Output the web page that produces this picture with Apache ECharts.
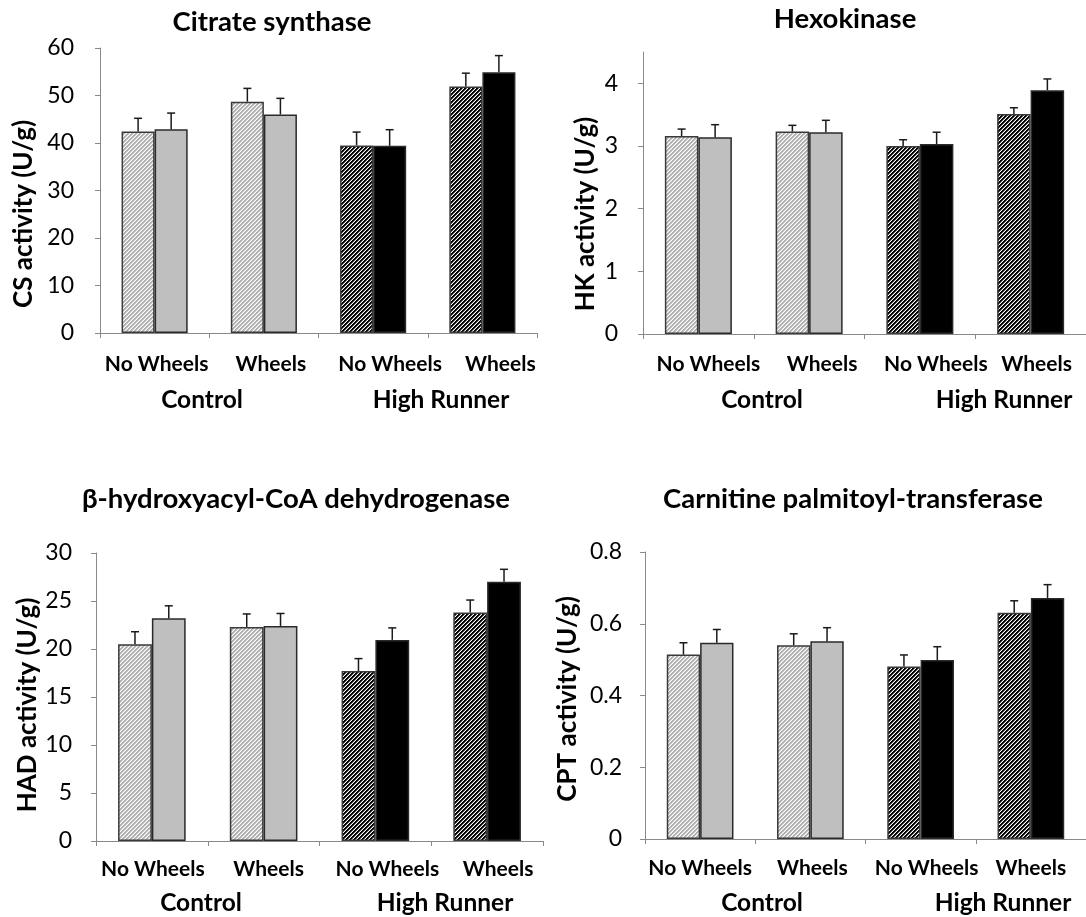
<!DOCTYPE html>
<html><head><meta charset="utf-8">
<script src="https://cdn.jsdelivr.net/npm/echarts@6/dist/echarts.min.js"></script>
<style>html,body{margin:0;padding:0;background:#fff}#c{width:1086px;height:917px}</style>
</head><body><div id="c"></div>
<script>
// ---- data ----
const categories = ['No Wheels', 'Wheels', 'No Wheels', 'Wheels'];
const groupLabels = ['Control', 'High Runner'];
const panelTitles = ['Citrate synthase', 'Hexokinase', 'β-hydroxyacyl-CoA dehydrogenase', 'Carnitine palmitoyl-transferase'];
const yNames = ['CS activity (U/g)', 'HK activity (U/g)', 'HAD activity (U/g)', 'CPT activity (U/g)'];

const csHatched = [42.4, 48.7, 39.5, 51.9];
const csHatchedErr = [2.8, 2.8, 2.8, 2.8];
const csSolid = [42.9, 46.0, 39.4, 54.9];
const csSolidErr = [3.4, 3.4, 3.4, 3.5];

const hkHatched = [3.16, 3.23, 3.00, 3.51];
const hkHatchedErr = [0.11, 0.10, 0.10, 0.10];
const hkSolid = [3.14, 3.22, 3.03, 3.89];
const hkSolidErr = [0.20, 0.19, 0.19, 0.18];

const hadHatched = [20.5, 22.3, 17.7, 23.8];
const hadHatchedErr = [1.3, 1.35, 1.3, 1.3];
const hadSolid = [23.2, 22.4, 20.95, 27.0];
const hadSolidErr = [1.3, 1.3, 1.25, 1.3];

const cptHatched = [0.514, 0.540, 0.481, 0.631];
const cptHatchedErr = [0.033, 0.032, 0.032, 0.033];
const cptSolid = [0.547, 0.551, 0.499, 0.672];
const cptSolidErr = [0.037, 0.038, 0.037, 0.037];

const csTicks = [0, 10, 20, 30, 40, 50, 60];
const hkTicks = [0, 1, 2, 3, 4];
const hadTicks = [0, 5, 10, 15, 20, 25, 30];
const cptTicks = [0, 0.2, 0.4, 0.6, 0.8];

// ---- styles / layout ----
const FONT = 'Lato';
const CAT_GAP = 0.395;
function hatch(fg, mid) {
  const c = document.createElement('canvas');
  c.width = 4; c.height = 4;
  const ctx = c.getContext('2d');
  ctx.fillStyle = '#fff'; ctx.fillRect(0, 0, 4, 4);
  for (let y = 0; y < 4; y++) for (let x = 0; x < 4; x++) {
    const r = (x + y) % 4;
    if (r < 2) { ctx.fillStyle = fg; ctx.fillRect(x, y, 1, 1); }
    else if (r === 2) { ctx.fillStyle = mid; ctx.fillRect(x, y, 1, 1); }
  }
  return c;
}
const lightHatch = { image: hatch('#b0b0b0', '#d6d6d6'), repeat: 'repeat' };
const darkHatch = { image: hatch('#000000', '#6a6a6a'), repeat: 'repeat' };
const hatchColors = [lightHatch, lightHatch, darkHatch, darkHatch];
const solidColors = ['#bfbfbf', '#bfbfbf', '#000000', '#000000'];

const panels = [
  { grid: { left: 100, top: 48, width: 437, height: 285 }, max: 60, interval: 10, ticks: csTicks,
    h: csHatched, he: csHatchedErr, s: csSolid, se: csSolidErr,
    title: [272, 22], yname: [24, 214], ymargin: 26, xmargin: 21, shift: [2, 7, 17, 18], groupX: [202, 441], groupY: 400 },
  { grid: { left: 643, top: 52, width: 448, height: 282 }, max: 4.5, interval: 1, ticks: hkTicks,
    h: hkHatched, he: hkHatchedErr, s: hkSolid, se: hkSolidErr,
    title: [845, 19], yname: [586, 214], ymargin: 25, xmargin: 20, shift: [10, 13, 16, 6], groupX: [762, 1004], groupY: 400 },
  { grid: { left: 96, top: 553, width: 447, height: 288 }, max: 30, interval: 5, ticks: hadTicks,
    h: hadHatched, he: hadHatchedErr, s: hadSolid, se: hadSolidErr,
    title: [296, 499], yname: [28, 705], ymargin: 24, xmargin: 18, shift: [1, 5, 12, 11], groupX: [201, 445], groupY: 903 },
  { grid: { left: 645, top: 552, width: 446, height: 287 }, max: 0.8, interval: 0.2, ticks: cptTicks,
    h: cptHatched, he: cptHatchedErr, s: cptSolid, se: cptSolidErr,
    title: [853, 499], yname: [568, 699], ymargin: 23, xmargin: 19, shift: [0, 2, 6, 0], groupX: [762, 1003], groupY: 903 }
];

const axisGray = '#898989';
const grids = [], xAxes = [], yAxes = [], series = [], graphics = [];

function errRender(side) {
  return function (params, api) {
    const x = api.value(0), v = api.value(1), e = api.value(2);
    const base = api.coord([x, v]);
    const top = api.coord([x, v + e]);
    const band = api.size([1, 0])[0];
    const bw = band * (1 - CAT_GAP) / 2;
    const cx = base[0] + side * bw / 2;
    const st = { stroke: '#1a1a1a', lineWidth: 1.5 };
    return { type: 'group', children: [
      { type: 'line', shape: { x1: cx, y1: base[1], x2: cx, y2: top[1] }, style: st },
      { type: 'line', shape: { x1: cx - 4, y1: top[1], x2: cx + 4, y2: top[1] }, style: st }
    ] };
  };
}

panels.forEach((p, i) => {
  grids.push(Object.assign({ containLabel: false }, p.grid));
  const rich = {};
  p.shift.forEach((s, k) => {
    rich['s' + k] = { fontFamily: FONT, fontWeight: 'bold', fontSize: 21, lineHeight: 21, color: '#000',
      padding: s >= 0 ? [0, 0, 0, 2 * s] : [0, -2 * s, 0, 0] };
  });
  xAxes.push({
    type: 'category', gridIndex: i, data: categories,
    axisLine: { lineStyle: { color: axisGray, width: 1 } },
    axisTick: { show: true, length: 5, lineStyle: { color: axisGray } },
    axisLabel: { interval: 0, hideOverlap: false, margin: p.xmargin,
      formatter: (val, idx) => '{s' + idx + '|' + val + '}', rich: rich }
  });
  yAxes.push({
    type: 'value', gridIndex: i, min: 0, max: p.max, interval: p.interval,
    splitLine: { show: false },
    axisLine: { show: true, lineStyle: { color: axisGray, width: 1 } },
    axisTick: { show: true, length: 5, customValues: p.ticks, lineStyle: { color: axisGray } },
    axisLabel: { customValues: p.ticks, margin: p.ymargin, fontFamily: FONT, fontSize: 23, color: '#000' }
  });
  series.push({
    type: 'bar', xAxisIndex: i, yAxisIndex: i, barGap: '0%', barCategoryGap: (CAT_GAP * 100) + '%',
    data: p.h.map((v, k) => ({ value: v, itemStyle: { color: hatchColors[k] } })),
    itemStyle: { borderColor: '#3a3a3a', borderWidth: 1.5 }, z: 2, silent: true
  });
  series.push({
    type: 'bar', xAxisIndex: i, yAxisIndex: i, barGap: '0%', barCategoryGap: (CAT_GAP * 100) + '%',
    data: p.s.map((v, k) => ({ value: v, itemStyle: { color: solidColors[k] } })),
    itemStyle: { borderColor: '#2a2a2a', borderWidth: 1.5 }, z: 2, silent: true
  });
  series.push({
    type: 'custom', xAxisIndex: i, yAxisIndex: i, renderItem: errRender(-1), z: 3, silent: true,
    encode: { x: 0, y: 1 }, data: p.h.map((v, k) => [k, v, p.he[k]])
  });
  series.push({
    type: 'custom', xAxisIndex: i, yAxisIndex: i, renderItem: errRender(1), z: 3, silent: true,
    encode: { x: 0, y: 1 }, data: p.s.map((v, k) => [k, v, p.se[k]])
  });
  graphics.push({ type: 'text', x: p.title[0], y: p.title[1], style: { text: panelTitles[i], fontFamily: FONT,
    fontWeight: 'bold', fontSize: 27.5, fill: '#000', align: 'center', verticalAlign: 'middle' } });
  graphics.push({ type: 'text', x: p.yname[0], y: p.yname[1], rotation: Math.PI / 2, style: { text: yNames[i], fontFamily: FONT,
    fontWeight: 'bold', fontSize: 26, fill: '#000', align: 'center', verticalAlign: 'middle' } });
  groupLabels.forEach((g, k) => {
    graphics.push({ type: 'text', x: p.groupX[k], y: p.groupY, style: { text: g, fontFamily: FONT,
      fontWeight: 'bold', fontSize: 24.5, fill: '#000', align: 'center', verticalAlign: 'middle' } });
  });
});

const chart = echarts.init(document.getElementById('c'), null, { renderer: 'canvas' });
chart.setOption({
  animation: false,
  backgroundColor: '#fff',
  textStyle: { fontFamily: FONT },
  grid: grids, xAxis: xAxes, yAxis: yAxes, series: series, graphic: graphics
});
</script></body></html>
